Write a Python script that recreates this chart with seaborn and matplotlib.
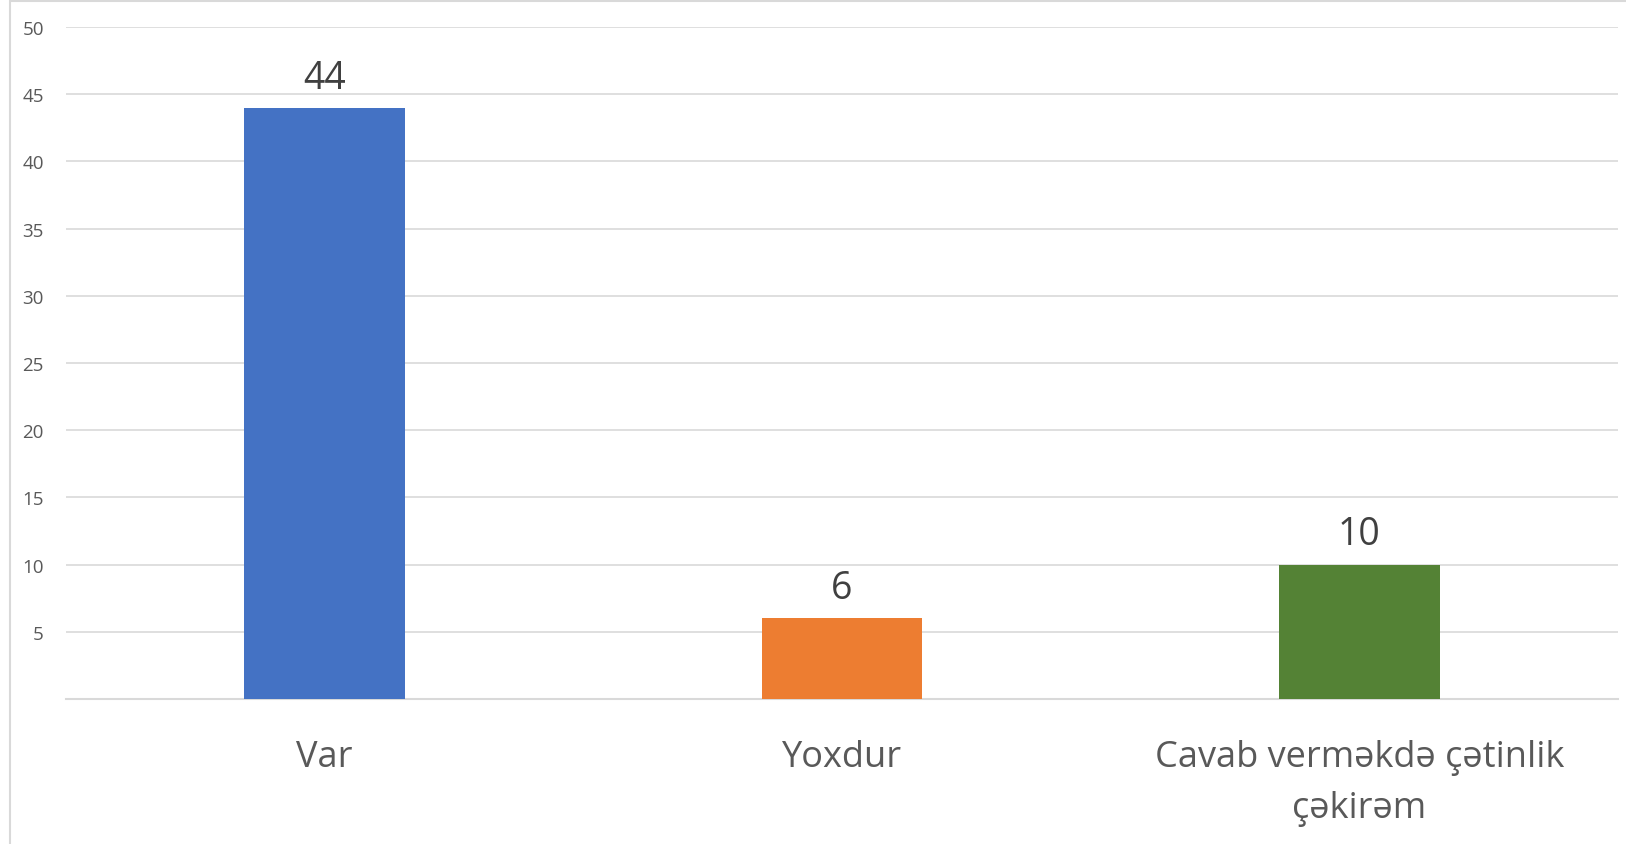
import matplotlib
matplotlib.use("Agg")
import matplotlib.pyplot as plt
import seaborn as sns
import pandas as pd
from matplotlib.patches import Rectangle

categories = ["Var", "Yoxdur", "Cavab verməkdə çətinlik\nçəkirəm"]
values = [44, 6, 10]
colors = ["#4472C4", "#ED7D31", "#548235"]
yticks = [5, 10, 15, 20, 25, 30, 35, 40, 45, 50]

sns.set_theme(style="white")
plt.rcParams["font.family"] = ["Open Sans", "DejaVu Sans"]

df = pd.DataFrame({"cat": categories, "val": values})

fig = plt.figure(figsize=(16.26, 8.45), dpi=100)
ax = fig.add_axes([66/1626, 1-700/845, (1618-66)/1626, (700-28)/845])

sns.barplot(data=df, x="cat", y="val", hue="cat", palette=colors, legend=False,
            width=0.31, ax=ax, zorder=3, saturation=1, linewidth=0)

ax.set_ylim(0, 50)
ax.set_xlim(-0.5, 2.5)
ax.set_yticks(yticks)
ax.set_yticklabels([str(t) for t in yticks])
ax.yaxis.grid(True, color="#D9D9D9", linewidth=1.2, zorder=0)
ax.set_axisbelow(True)
for s in ["left", "right", "top"]:
    ax.spines[s].set_visible(False)
ax.spines["bottom"].set_color("#D9D9D9")
ax.spines["bottom"].set_linewidth(1.5)
ax.tick_params(axis="y", length=0, pad=16, labelsize=13.5, labelcolor="#595959")
ax.tick_params(axis="x", length=0, pad=29, labelsize=26, labelcolor="#595959")
ax.set_xlabel("")
ax.set_ylabel("")
for lbl in ax.get_xticklabels():
    lbl.set_linespacing(1.55)

for container in ax.containers:
    ax.bar_label(container, padding=8, fontsize=27, color="#404040")

fig.patches.append(Rectangle((10/1626, -0.01), 1.0, 1 - 2/845 + 0.01,
                             transform=fig.transFigure, fill=False,
                             edgecolor="#D9D9D9", linewidth=1.5))

fig.savefig("out.png", dpi=100, facecolor="white")
